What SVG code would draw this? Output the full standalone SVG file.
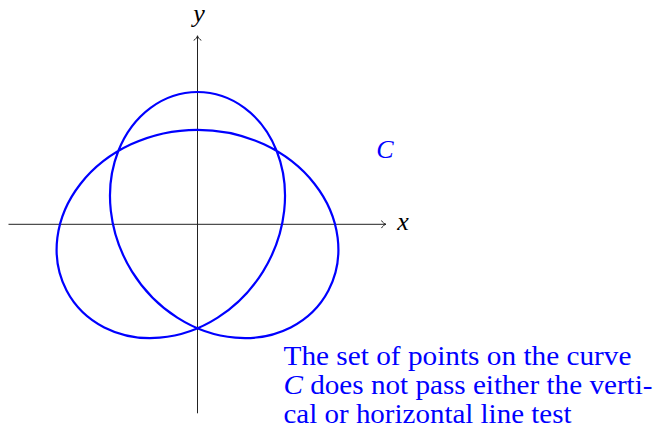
<svg xmlns="http://www.w3.org/2000/svg" width="660" height="431" viewBox="0 0 660 431">
<style>
.axis{stroke:#222;stroke-width:1;fill:none}
.curve{stroke:#0000ff;stroke-width:2.2;fill:none}
.math{font-family:"Liberation Serif","Times New Roman",serif;font-style:italic;font-size:26px}
.txt{font-family:"Liberation Serif","Times New Roman",serif;font-size:28px;fill:#0000ff}
</style>
<defs>
<marker id="arr" viewBox="-6 -5 8 10" markerWidth="8" markerHeight="10" refX="0" refY="0" orient="auto" markerUnits="userSpaceOnUse">
<path d="M-4.5,-3.8 C-3.5,-1.6 -1.2,-0.3 0,0 C-1.2,0.3 -3.5,1.6 -4.5,3.8" stroke="#222" stroke-width="1" fill="none"/>
</marker>
</defs>
<g id="connectors">
<line class="axis" x1="8.5" y1="224.3" x2="386" y2="224.3" marker-end="url(#arr)"/>
<line class="axis" x1="197.5" y1="413.3" x2="197.5" y2="35.8" marker-end="url(#arr)"/>
</g>
<g id="curve-C">
<path class="curve" d="M197.5,92 C181.007,92 164.537,97.514 150.583,107.837 C136.629,118.16 125.232,133.267 118.193,151.232 C111.154,169.197 108.496,189.978 110.829,210.936 C113.162,231.894 120.483,252.981 132.028,271.55 C143.573,290.119 159.318,306.127 177.312,317.616 C195.306,329.105 215.508,336.051 235.3,337.7 C255.092,339.349 274.425,335.702 290.712,327.399 C306.999,319.096 320.196,306.162 328.443,290.45 C336.69,274.738 339.962,256.29 337.629,237.664 C335.296,219.038 327.36,200.284 314.607,183.968 C301.854,167.652 284.31,153.818 263.983,144.349 C243.656,134.88 220.591,129.8 197.5,129.8 C174.409,129.8 151.344,134.88 131.017,144.349 C110.69,153.818 93.146,167.652 80.393,183.968 C67.64,200.284 59.704,219.038 57.371,237.664 C55.038,256.29 58.31,274.738 66.557,290.45 C74.804,306.162 88.001,319.096 104.288,327.399 C120.575,335.702 139.908,339.349 159.7,337.7 C179.492,336.051 199.694,329.105 217.688,317.616 C235.682,306.127 251.427,290.119 262.972,271.55 C274.517,252.981 281.838,231.894 284.171,210.936 C286.504,189.978 283.846,169.197 276.807,151.232 C269.768,133.267 258.371,118.16 244.417,107.837 C230.463,97.514 213.993,92 197.5,92 Z"/>
</g>
<g id="label-x"><text class="math" x="403" y="230" text-anchor="middle" fill="#000">x</text></g>
<g id="label-y"><text class="math" x="199" y="22" text-anchor="middle" fill="#000" font-size="22">y</text></g>
<g id="label-C"><text class="math" x="385" y="157.5" text-anchor="middle" fill="#0000ff">C</text></g>
<g id="note">
<text class="txt" x="283.5" y="365" textLength="348" lengthAdjust="spacingAndGlyphs">The set of points on the curve</text>
<text class="txt" x="283.5" y="394" textLength="369" lengthAdjust="spacingAndGlyphs"><tspan font-style="italic">C</tspan> does not pass either the verti-</text>
<text class="txt" x="283.5" y="423" textLength="288" lengthAdjust="spacingAndGlyphs">cal or horizontal line test</text>
</g>
</svg>
